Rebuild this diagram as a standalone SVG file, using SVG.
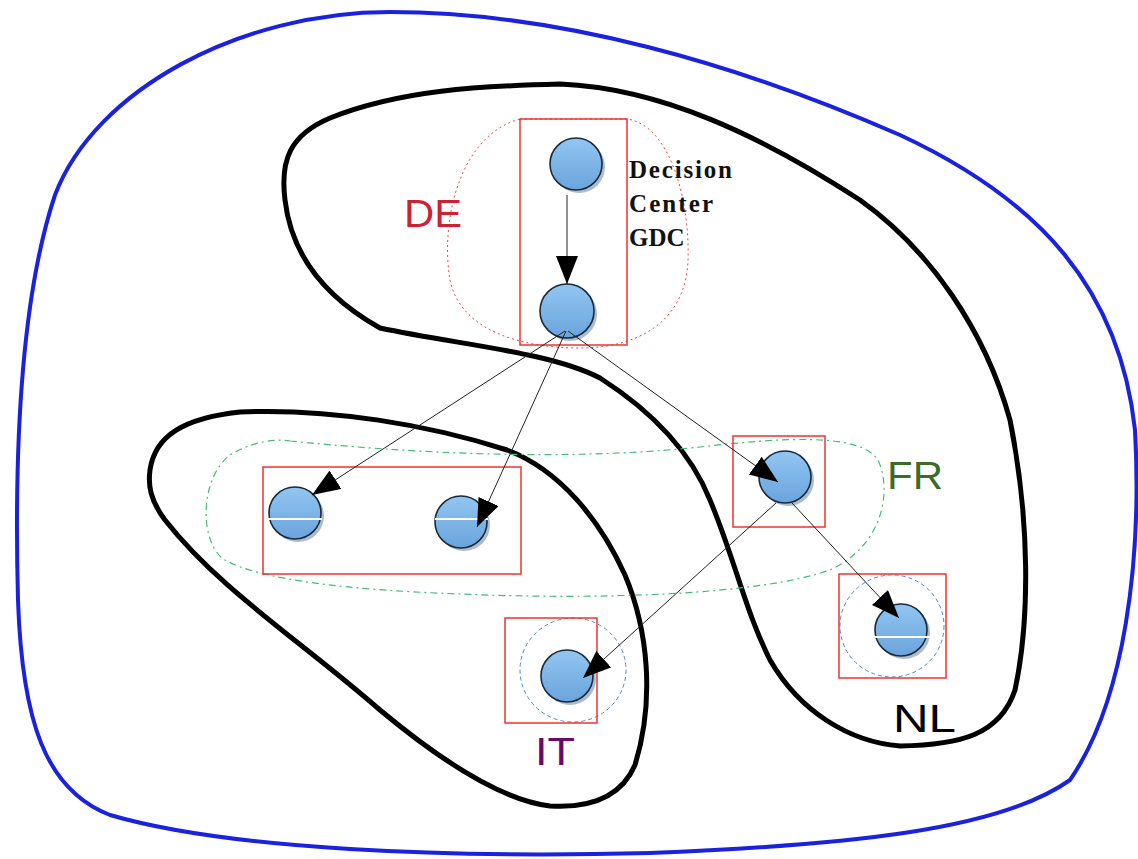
<svg xmlns="http://www.w3.org/2000/svg" width="1138" height="859" viewBox="0 0 1138 859">
<style>
.lbl{font-family:"Liberation Sans",Arial,sans-serif;font-size:38px}
.dc{font-family:"Liberation Serif","Times New Roman",serif;font-size:25px;font-weight:bold;fill:#111}
.box{fill:none;stroke:#ee3333;stroke-width:1.5}
.node{fill:url(#g);stroke:#1a2a3a;stroke-width:1.6}
.shadow{fill:#5a7a99;opacity:0.5}
.conn{stroke:#222;stroke-width:1;fill:none;marker-end:url(#ah)}
.hl{stroke:#fff;stroke-width:2}
</style>
<defs>
<linearGradient id="g" x1="0" y1="0" x2="0" y2="1">
<stop offset="0" stop-color="#92c6f2"/>
<stop offset="1" stop-color="#6aa4dc"/>
</linearGradient>
<marker id="ah" viewBox="0 0 10 10" refX="10" refY="5" markerWidth="28" markerHeight="22" markerUnits="userSpaceOnUse" orient="auto" preserveAspectRatio="none">
<path d="M0,0 L10,5 L0,10 z" fill="#000"/>
</marker>
</defs>
<rect width="1138" height="859" fill="#fff"/>
<g id="world">
<path d="M390,12 C560,12 740,65 900,135 C1040,200 1120,290 1135,430 C1142,560 1125,700 1070,780 C1000,830 850,845 650,853 C450,858 230,850 110,815 C45,790 22,720 18,600 C14,450 20,300 55,195 C95,90 240,12 390,12 Z" fill="none" stroke="#1a22dd" stroke-width="4"/>
</g>
<g id="region-de-nl">
<path d="M380,328 C330,300 292,260 285,200 C280,160 290,135 330,118 C400,90 480,86 560,84 C660,88 760,135 860,200 C930,250 985,330 1010,420 C1030,520 1030,620 1015,690 C1000,735 960,745 900,746 C850,742 800,712 770,660 C745,610 735,560 710,500 C690,450 650,410 600,378 C550,352 460,345 380,328 Z" fill="none" stroke="#000" stroke-width="5" stroke-linejoin="round"/>
</g>
<g id="region-it">
<path d="M150,470 C155,435 185,418 240,412 C330,408 430,425 507,450 C560,470 600,520 625,575 C648,630 655,700 635,765 C620,800 585,808 550,806 C500,800 440,760 380,710 C300,640 220,590 165,520 C150,500 148,485 150,470 Z" fill="none" stroke="#000" stroke-width="5" stroke-linejoin="round"/>
</g>
<g id="dashed-groups">
<path id="de-blob" d="M520,119 L627,119 C670,125 690,200 688,260 C686,320 640,348 580,348 C520,348 460,330 450,280 C440,220 460,135 520,119 Z" fill="none" stroke="#ee4444" stroke-width="1" stroke-dasharray="2,3"/>
<path id="fr-blob" d="M290,441 C400,452 560,462 700,447 C780,438 860,432 878,460 C892,490 884,545 830,570 C760,595 600,600 460,594 C350,590 260,580 225,560 C200,545 198,480 230,455 C250,443 272,438 290,441 Z" fill="none" stroke="#44bb77" stroke-width="1.2" stroke-dasharray="7,4,2,4"/>
<ellipse id="it-blob" cx="573" cy="670" rx="53" ry="52" fill="none" stroke="#5588cc" stroke-width="1" stroke-dasharray="4,3"/>
<ellipse id="nl-blob" cx="892" cy="626" rx="52" ry="51" fill="none" stroke="#5588cc" stroke-width="1" stroke-dasharray="4,3"/>
</g>
<g id="boxes">
<rect class="box" x="520" y="119" width="107" height="226"/>
<rect class="box" x="263" y="467" width="258" height="107"/>
<rect class="box" x="733" y="436" width="92" height="91"/>
<rect class="box" x="839" y="574" width="107" height="104"/>
<rect class="box" x="505" y="618" width="92" height="105"/>
</g>
<g id="n1"><circle class="shadow" cx="579" cy="167" r="26"/><circle class="node" cx="576" cy="164" r="26"/></g>
<g id="n2"><circle class="shadow" cx="570" cy="314" r="27"/><circle class="node" cx="567" cy="311" r="27"/></g>
<g id="n3"><circle class="shadow" cx="298" cy="516" r="26"/><circle class="node" cx="295" cy="513" r="26"/><line class="hl" x1="268" y1="519" x2="322" y2="519"/></g>
<g id="n4"><circle class="shadow" cx="464" cy="525" r="26"/><circle class="node" cx="461" cy="522" r="26"/><line class="hl" x1="435" y1="519" x2="488" y2="519"/></g>
<g id="n5"><circle class="shadow" cx="788" cy="480" r="26"/><circle class="node" cx="785" cy="477" r="26"/></g>
<g id="n6"><circle class="shadow" cx="904" cy="633" r="26"/><circle class="node" cx="901" cy="630" r="26"/><line class="hl" x1="875" y1="637" x2="930" y2="637"/></g>
<g id="n7"><circle class="shadow" cx="570" cy="679" r="26"/><circle class="node" cx="567" cy="676" r="26"/></g>
<g id="connectors">
<line class="conn" x1="567" y1="195" x2="567" y2="284"/>
<line class="conn" x1="565" y1="331" x2="312" y2="495"/>
<line class="conn" x1="566" y1="331" x2="477" y2="527"/>
<line class="conn" x1="568" y1="331" x2="778" y2="482"/>
<line class="conn" x1="792" y1="503" x2="899" y2="618"/>
<line class="conn" x1="776" y1="503" x2="583" y2="678"/>
</g>
<g id="labels">
<text class="lbl" x="404" y="227" fill="#cc2233" textLength="58" lengthAdjust="spacingAndGlyphs">DE</text>
<text class="lbl" x="887" y="489" fill="#3d6b2a" textLength="56" lengthAdjust="spacingAndGlyphs">FR</text>
<text class="lbl" x="893" y="732" fill="#000" textLength="63" lengthAdjust="spacingAndGlyphs">NL</text>
<text class="lbl" x="535" y="765" fill="#6a0a66" textLength="40" lengthAdjust="spacingAndGlyphs">IT</text>
<text class="dc" x="629" y="178" textLength="103" lengthAdjust="spacing">Decision</text>
<text class="dc" x="629" y="212" textLength="84" lengthAdjust="spacing">Center</text>
<text class="dc" x="629" y="246">GDC</text>
</g>
</svg>
